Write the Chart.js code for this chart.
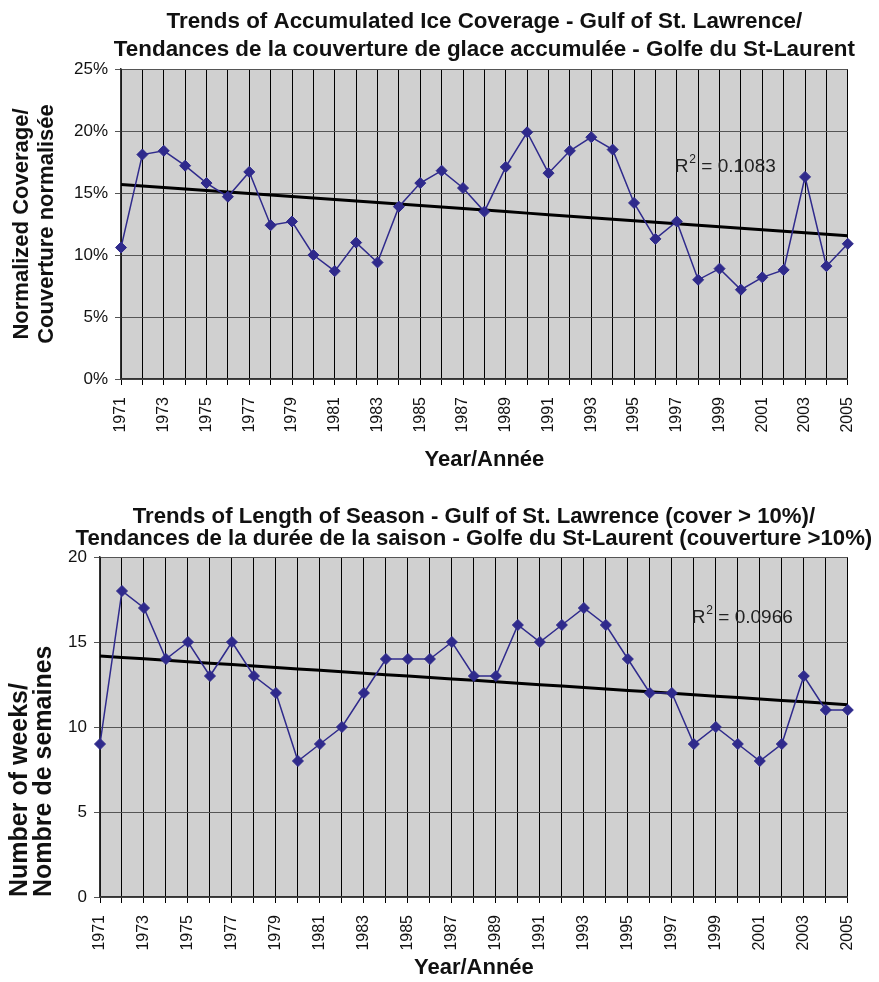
<!DOCTYPE html>
<html>
<head>
<meta charset="utf-8">
<script src="https://cdn.jsdelivr.net/npm/chart.js@4.4.0/dist/chart.umd.min.js"></script>
<style>
  html, body { margin: 0; padding: 0; background: #fff; }
  #wrap { position: relative; width: 879px; height: 982px; }
  .box { position: absolute; left: 0; width: 879px; }
  #box_cover { top: 0; height: 490px; }
  #box_season { top: 490px; height: 492px; }
</style>
</head>
<body>
<div id="wrap">
  <div class="box" id="box_cover"><canvas id="chart_cover" width="879" height="490"></canvas></div>
  <div class="box" id="box_season"><canvas id="chart_season" width="879" height="492"></canvas></div>
</div>
<script>
// Gulf of St. Lawrence ice season, 1971-2005
const years = ['1971', '1972', '1973', '1974', '1975', '1976', '1977', '1978', '1979', '1980',
               '1981', '1982', '1983', '1984', '1985', '1986', '1987', '1988', '1989', '1990',
               '1991', '1992', '1993', '1994', '1995', '1996', '1997', '1998', '1999', '2000',
               '2001', '2002', '2003', '2004', '2005'];

// accumulated ice coverage, normalized (%)
const coverage = [10.6, 18.1, 18.4, 17.2, 15.8, 14.7, 16.7, 12.4, 12.7, 10.0,
                  8.7, 11.0, 9.4, 13.9, 15.8, 16.8, 15.4, 13.5, 17.1, 19.9,
                  16.6, 18.4, 19.5, 18.5, 14.2, 11.3, 12.7, 8.0, 8.9, 7.2,
                  8.2, 8.8, 16.3, 9.1, 10.9];

// season length with cover > 10% (weeks)
const weeks = [9, 18, 17, 14, 15, 13, 15, 13, 12, 8,
               9, 10, 12, 14, 14, 14, 15, 13, 13, 16,
               15, 16, 17, 16, 14, 12, 12, 9, 10, 9,
               8, 9, 13, 11, 11];

const coverageTicks = [0, 5, 10, 15, 20, 25];
const weekTicks = [0, 5, 10, 15, 20];

const coverageR2 = '0.1083';
const weeksR2 = '0.0966';

const FONT = "'Liberation Sans', Arial, Helvetica, sans-serif";
const NAVY = '#2f2a8c';

// least squares line over the year index
function linearFit(vals) {
    const n = vals.length;
    let sx = 0, sy = 0, sxx = 0, sxy = 0;
    vals.forEach((v, i) => { sx += i; sy += v; sxx += i * i; sxy += i * v; });
    const slope = (n * sxy - sx * sy) / (n * sxx - sx * sx);
    const icpt = (sy - slope * sx) / n;
    return vals.map((v, i) => icpt + slope * i);
}

// grey fill behind the plot
const plotBackground = {
    id: 'plotBackground',
    beforeDraw(chart) {
        const { ctx, chartArea: a } = chart;
        ctx.save();
        ctx.fillStyle = '#d0d0d0';
        ctx.fillRect(a.left, a.top, a.right - a.left, a.bottom - a.top);
        ctx.restore();
    }
};

// two-line heading centred over the plot
const heading = {
    id: 'heading',
    afterDraw(chart, args, opts) {
        const { ctx, chartArea: a } = chart;
        ctx.save();
        ctx.font = 'bold ' + opts.size + 'px ' + FONT;
        ctx.fillStyle = '#111';
        ctx.textAlign = 'center';
        ctx.textBaseline = 'middle';
        const cx = (a.left + a.right) / 2;
        opts.lines.forEach((line, i) => ctx.fillText(line, cx, opts.top + i * opts.gap));
        ctx.restore();
    }
};

// "R² = ..." label placed in data coordinates
const rSquared = {
    id: 'rSquared',
    afterDatasetsDraw(chart, args, opts) {
        const { ctx, scales } = chart;
        let x = scales.x.getPixelForValue(opts.at);
        const y = scales.y.getPixelForValue(opts.value);
        ctx.save();
        ctx.fillStyle = '#222';
        ctx.textBaseline = 'alphabetic';
        ctx.textAlign = 'left';
        ctx.font = '19px ' + FONT;
        ctx.fillText('R', x, y);
        x += ctx.measureText('R').width + 1;
        ctx.font = '12px ' + FONT;
        ctx.fillText('2', x, y - 9);
        x += ctx.measureText('2').width;
        ctx.font = '19px ' + FONT;
        ctx.fillText(' = ' + opts.text, x, y);
        ctx.restore();
    }
};

function buildChart(canvasId, cfg) {
    const ctx = document.getElementById(canvasId).getContext('2d');
    return new Chart(ctx, {
        type: 'line',
        data: {
            labels: years,
            datasets: [{
                data: cfg.values,
                borderColor: NAVY,
                backgroundColor: NAVY,
                borderWidth: 1.5,
                pointStyle: 'rectRot',
                pointRadius: 5.5,
                pointBorderWidth: 1,
                tension: 0,
                clip: false
            }, {
                data: linearFit(cfg.values),
                borderColor: '#000',
                borderWidth: 3,
                pointRadius: 0,
                tension: 0,
                clip: false
            }]
        },
        options: {
            responsive: false,
            animation: false,
            layout: { padding: cfg.padding },
            plugins: {
                legend: { display: false },
                tooltip: { enabled: false },
                heading: cfg.heading,
                rSquared: cfg.r2
            },
            scales: {
                x: {
                    offset: false,
                    grid: { color: '#000', lineWidth: 1, tickLength: 6 },
                    border: { color: '#333', width: 1.5 },
                    ticks: {
                        autoSkip: false,
                        minRotation: 90,
                        maxRotation: 90,
                        padding: 12,
                        color: '#111',
                        font: { family: FONT, size: 16 },
                        callback: (v, i) => (i % 2 === 0 ? years[i] : '')
                    },
                    title: {
                        display: true,
                        text: 'Year/Année',
                        color: '#111',
                        font: { family: FONT, size: 22, weight: 'bold' },
                        padding: { top: 0, bottom: cfg.xTitleGap }
                    },
                    afterFit: s => { s.height = cfg.xHeight; }
                },
                y: {
                    min: cfg.ticks[0],
                    max: cfg.ticks[cfg.ticks.length - 1],
                    grid: { color: '#555', lineWidth: 1, tickLength: 6 },
                    border: { color: '#333', width: 1.5 },
                    afterBuildTicks: s => { s.ticks = cfg.ticks.map(v => ({ value: v })); },
                    ticks: {
                        padding: 7,
                        color: '#111',
                        font: { family: FONT, size: 17 },
                        callback: cfg.tickFormat
                    },
                    title: cfg.yTitle,
                    afterFit: s => { s.width = cfg.yWidth; }
                }
            }
        },
        plugins: [plotBackground, heading, rSquared]
    });
}

buildChart('chart_cover', {
    values: coverage,
    ticks: coverageTicks,
    tickFormat: v => v + '%',
    padding: { top: 69, right: 27, left: 0, bottom: 0 },
    yWidth: 121,
    xHeight: 111,
    xTitleGap: 17,
    heading: {
        lines: ['Trends of Accumulated Ice Coverage - Gulf of St. Lawrence/',
                'Tendances de la couverture de glace accumulée - Golfe du St-Laurent'],
        size: 22.4, top: 22, gap: 28
    },
    r2: { text: coverageR2, at: 25.9, value: 16.7 },
    yTitle: {
        display: true,
        text: ['Normalized Coverage/', 'Couverture normalisée'],
        color: '#111',
        font: { family: FONT, size: 22, weight: 'bold', lineHeight: 1.15 },
        padding: { top: 9, bottom: 0 }
    }
});

buildChart('chart_season', {
    values: weeks,
    ticks: weekTicks,
    tickFormat: v => String(v),
    padding: { top: 67, right: 17, left: 0, bottom: 0 },
    yWidth: 100,
    xHeight: 85,
    xTitleGap: 1,
    heading: {
        lines: ['Trends of Length of Season - Gulf of St. Lawrence (cover > 10%)/',
                'Tendances de la durée de la saison - Golfe du St-Laurent (couverture >10%)'],
        size: 22.2, top: 27, gap: 22
    },
    r2: { text: weeksR2, at: 26.9, value: 16.1 },
    yTitle: {
        display: true,
        text: ['Number of weeks/', 'Nombre de semaines'],
        align: 'start',
        color: '#111',
        font: { family: FONT, size: 25, weight: 'bold', lineHeight: 0.95 },
        padding: { top: 8, bottom: 0 }
    }
});
</script>
</body>
</html>
